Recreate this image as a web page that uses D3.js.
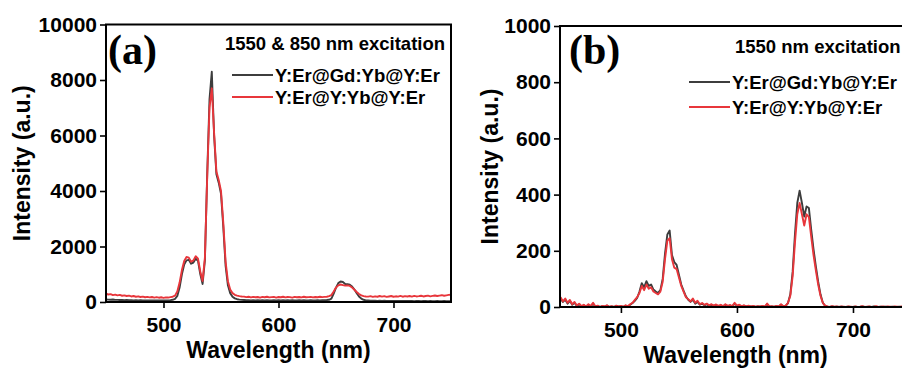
<!DOCTYPE html>
<html>
<head>
<meta charset="utf-8">
<script src="https://cdn.jsdelivr.net/npm/d3@7"></script>
<style>
  body { margin: 0; background: #fff; }
  text { font-family: "Liberation Sans", Arial, sans-serif; font-weight: bold; fill: #000; }
</style>
</head>
<body>
<svg id="chart" width="902" height="370"></svg>
<script>
// ---- data ----
// panel (a): wavelength grid 450..750 nm, step 2
var waveA = d3.range(450, 751, 2);
var gdA = [
  90, 85, 80, 88, 75, 78, 70, 74, 66, 70, 62, 66, 60, 64, 58, 62, 56, 60, 55, 58, 54, 57, 52, 56, 54, 55, 58, 60, 66, 80, 110,
  220, 520, 1000, 1350, 1500, 1520, 1380, 1420, 1560, 1480, 1000, 650, 1500, 4600, 7300, 8300, 6000, 4600, 4300, 3900, 2700, 1300, 600, 320, 190, 130, 100, 85, 75,
  70, 62, 68, 58, 65, 60, 66, 55, 63, 58, 67, 60, 54, 62, 57, 65, 59, 63, 55, 61, 58, 66, 60, 54, 62, 57, 64, 59, 55, 63, 60, 57, 65, 58, 62, 66,
  70, 80, 120, 300, 520, 680, 740, 720, 650, 640, 620, 560, 450, 320, 200, 120, 80, 60,
  55, 50, 46, 48, 42, 45, 40, 44, 38, 42, 40, 36, 41, 38, 35, 40, 37, 34, 39, 36, 33, 38, 35, 32, 37, 34, 31, 36, 33, 30, 35, 32, 30, 34, 31, 33, 30
];
var yA = [
  300, 270, 285, 250, 265, 240, 255, 225, 240, 215, 230, 200, 215, 190, 205, 180, 195, 170, 185, 165, 180, 160, 175, 155, 170, 150, 168, 160, 175, 190, 230,
  380, 700, 1150, 1480, 1620, 1600, 1450, 1500, 1650, 1560, 1100, 760, 1600, 4500, 7000, 7700, 6100, 4700, 4400, 4000, 2850, 1450, 750, 450, 320, 260, 230, 210, 200,
  195, 175, 190, 165, 185, 170, 180, 160, 185, 170, 190, 165, 175, 185, 160, 180, 170, 190, 165, 180, 175, 160, 185, 170, 180, 165, 190, 170, 175, 185, 165, 180, 170, 190, 175, 185,
  190, 210, 250, 380, 520, 600, 630, 610, 590, 600, 580, 520, 440, 360, 290, 240, 210, 200,
  195, 210, 185, 205, 190, 215, 195, 210, 185, 200, 215, 190, 205, 195, 220, 190, 210, 200, 215, 195, 220, 200, 210, 225, 200, 215, 230, 205, 220, 235, 215, 230, 245, 225, 240, 255, 260
];

// panel (b): wavelength grid 448..750 nm, step 2
var waveB = d3.range(448, 751, 2);
var gdB = [
  30, 18, 26, 12, 22, 8, 15, 4, 10, 2, 6, 1, 8, 2, 12, 1, 4, 0, 3, 1, 5, 0, 2, 0, 4, 1, 3, 0, 5, 2, 8, 14, 22, 32, 55, 85, 70, 92, 75, 80, 62, 55, 50, 60, 100,
  190, 258, 272, 185, 160, 150, 115, 80, 58, 38, 26, 18, 26, 12, 18, 8, 12, 6, 10, 4, 8, 3, 7, 2, 6, 2, 8, 3, 6, 2, 12, 4, 6, 2, 5, 1, 4, 1, 3, 0, 2, 1, 3, 0, 10, 1, 2, 0, 3, 1, 8, 2,
  4, 14, 45, 125, 260, 370, 414, 370, 322, 358, 352, 275, 205, 145, 90, 45, 15, 4, 1, 0, 2, 0, 1, 0, 1, 0, 0, 1, 0, 0, 1, 0, 0, 2, 0, 0, 1, 0, 2, 0, 0, 1, 0, 1, 0, 0, 1, 0, 0, 1, 0
];
var yB = [
  35, 20, 30, 15, 25, 10, 18, 5, 12, 3, 8, 2, 10, 3, 15, 2, 5, 0, 4, 2, 6, 1, 3, 0, 5, 2, 4, 1, 6, 3, 10, 15, 25, 35, 50, 75, 60, 80, 65, 70, 55, 50, 45, 55, 90,
  170, 235, 245, 170, 140, 135, 105, 75, 55, 35, 28, 20, 30, 15, 22, 10, 14, 8, 12, 6, 10, 5, 9, 4, 8, 3, 10, 4, 7, 3, 15, 5, 8, 3, 6, 2, 5, 2, 4, 1, 3, 2, 4, 1, 12, 2, 3, 1, 4, 2, 10, 3,
  5, 15, 40, 110, 230, 330, 370, 330, 290, 330, 320, 250, 185, 130, 80, 40, 15, 5, 2, 0, 3, 1, 2, 0, 2, 1, 0, 2, 1, 0, 2, 0, 1, 3, 0, 1, 2, 0, 1, 3, 0, 1, 2, 0, 2, 1, 0, 2, 1, 0, 2, 1
];

var ticksA = [0, 2000, 4000, 6000, 8000, 10000];
var ticksB = [0, 200, 400, 600, 800, 1000];
var xTicks = [500, 600, 700];
var seriesNames = ["Y:Er@Gd:Yb@Y:Er", "Y:Er@Y:Yb@Y:Er"];
var colors = ["#3d3d3d", "#e8363b"];

var svg = d3.select("#chart");

var panels = [
  { label: "(a)", title: "1550 & 850 nm excitation", wave: waveA, series: [gdA, yA],
    xDomain: [450, 750], yDomain: [0, 10000], yTicks: ticksA,
    left: 106, right: 451, top: 24.5, bottom: 302, yTitleX: 30,
    labelX: 108, titleX: 225, titleY: 50, legX: 232, legY: [75, 97] },
  { label: "(b)", title: "1550 nm excitation", wave: waveB, series: [gdB, yB],
    xDomain: [447.5, 750], yDomain: [0, 1000], yTicks: ticksB,
    left: 560, right: 911, top: 26, bottom: 307, yTitleX: 498,
    labelX: 569, titleX: 735, titleY: 53, legX: 689, legY: [82, 107] }
];

panels.forEach(function (p, k) {
  var x = d3.scaleLinear().domain(p.xDomain).range([p.left, p.right]);
  var y = d3.scaleLinear().domain(p.yDomain).range([p.bottom, p.top]);
  var g = svg.append("g").attr("class", "panel");

  g.append("clipPath").attr("id", "clip" + k)
    .append("rect")
    .attr("x", p.left).attr("y", p.top)
    .attr("width", p.right - p.left).attr("height", p.bottom - p.top);

  // spectra, black first so red sits on top
  var line = d3.line()
    .x(function (d) { return x(d[0]); })
    .y(function (d) { return y(d[1]); });
  p.series.forEach(function (vals, j) {
    var pts = vals.map(function (v, i) { return [p.wave[i], v]; });
    g.append("path")
      .datum(pts)
      .attr("clip-path", "url(#clip" + k + ")")
      .attr("fill", "none")
      .attr("stroke", colors[j])
      .attr("stroke-width", 1.9)
      .attr("stroke-linejoin", "round")
      .attr("d", line);
  });

  // frame
  g.append("rect")
    .attr("x", p.left).attr("y", p.top)
    .attr("width", p.right - p.left).attr("height", p.bottom - p.top)
    .attr("fill", "none").attr("stroke", "#000").attr("stroke-width", 2);

  // axes
  var ya = g.append("g")
    .attr("transform", "translate(" + p.left + ",0)")
    .call(d3.axisLeft(y).tickValues(p.yTicks).tickFormat(d3.format("d")).tickSize(6).tickPadding(3));
  var xa = g.append("g")
    .attr("transform", "translate(0," + p.bottom + ")")
    .call(d3.axisBottom(x).tickValues(xTicks).tickFormat(d3.format("d")).tickSize(6).tickPadding(9));
  [ya, xa].forEach(function (a) {
    a.select(".domain").remove();
    a.selectAll("line").attr("stroke", "#000").attr("stroke-width", 1.6);
    a.selectAll("text").attr("font-size", 21)
      .attr("font-family", "Liberation Sans, Arial, sans-serif")
      .attr("font-weight", "bold").attr("fill", "#000");
  });

  // axis titles
  g.append("text")
    .attr("x", (p.left + p.right) / 2).attr("y", p.bottom + 56)
    .attr("text-anchor", "middle").attr("font-size", 23)
    .text("Wavelength (nm)");
  g.append("text")
    .attr("transform", "translate(" + p.yTitleX + "," + ((p.top + p.bottom) / 2) + ") rotate(-90)")
    .attr("text-anchor", "middle").attr("font-size", 23)
    .text("Intensity (a.u.)");

  // panel letter
  g.append("text")
    .attr("x", p.labelX).attr("y", 64)
    .style("font-family", "'Liberation Serif', 'Times New Roman', serif")
    .attr("font-size", 42)
    .text(p.label);

  // title + legend
  g.append("text")
    .attr("x", p.titleX).attr("y", p.titleY)
    .attr("font-size", 18.5)
    .text(p.title);
  seriesNames.forEach(function (name, j) {
    g.append("line")
      .attr("x1", p.legX).attr("x2", p.legX + 41)
      .attr("y1", p.legY[j]).attr("y2", p.legY[j])
      .attr("stroke", colors[j]).attr("stroke-width", 1.8);
    g.append("text")
      .attr("x", p.legX + 43).attr("y", p.legY[j] + 6.6)
      .attr("font-size", 18.5)
      .text(name);
  });
});
</script>
</body>
</html>
